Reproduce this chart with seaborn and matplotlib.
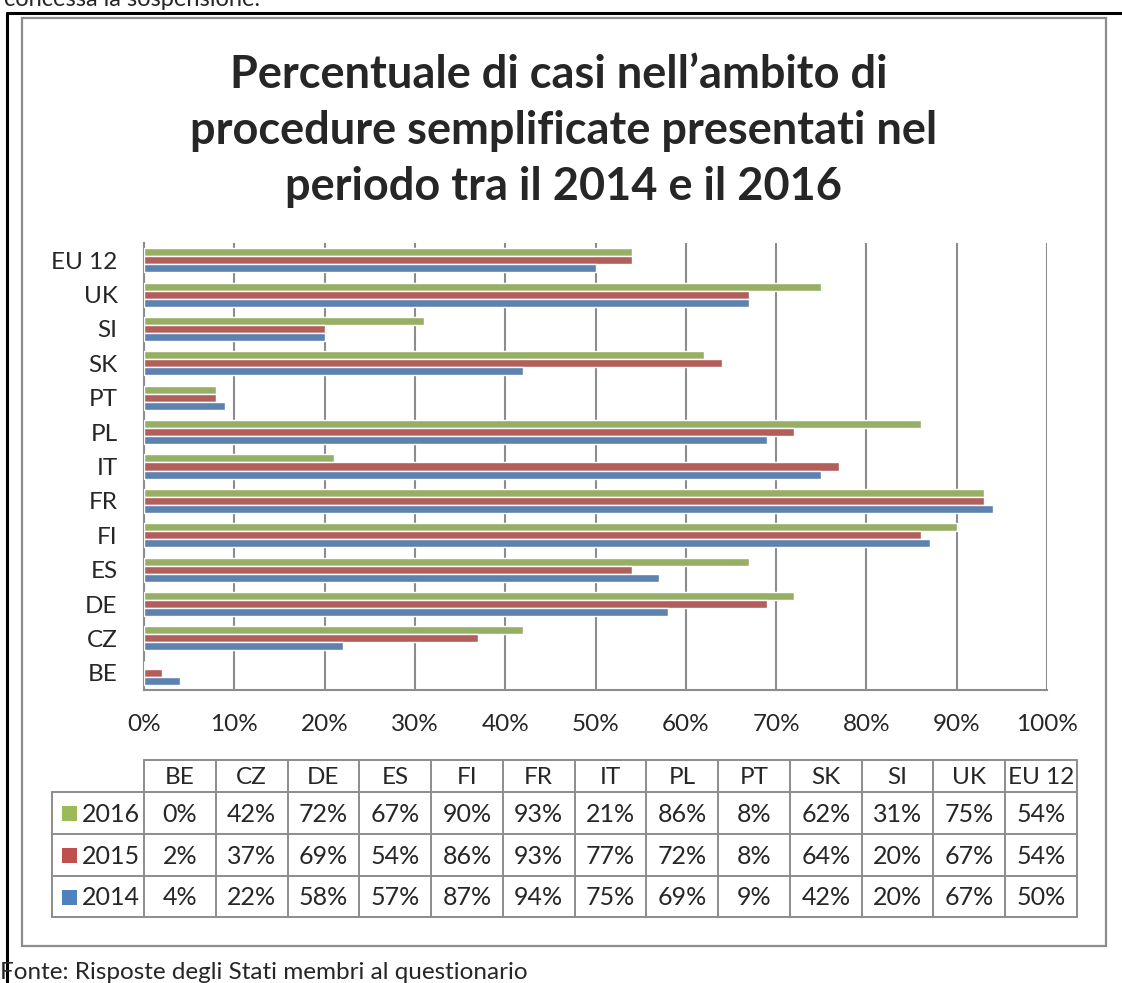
import matplotlib
matplotlib.use("Agg")
import matplotlib.pyplot as plt
import seaborn as sns
import pandas as pd

# dati (percentuali)
paesi = ["BE", "CZ", "DE", "ES", "FI", "FR", "IT", "PL", "PT", "SK", "SI", "UK", "EU 12"]
anni = ["2016", "2015", "2014"]
v2016 = [0, 42, 72, 67, 90, 93, 21, 86, 8, 62, 31, 75, 54]
v2015 = [2, 37, 69, 54, 86, 93, 77, 72, 8, 64, 20, 67, 54]
v2014 = [4, 22, 58, 57, 87, 94, 75, 69, 9, 42, 20, 67, 50]
x_ticks = [0, 10, 20, 30, 40, 50, 60, 70, 80, 90, 100]

colori = {"2016": "#9BBB59", "2015": "#C0504D", "2014": "#4F81BD"}
grigio = "#8C8C8C"

sns.set_style("white")
plt.rcParams['font.family'] = ['Lato', 'DejaVu Sans']

W, H = 1122, 983
fig = plt.figure(figsize=(W / 100, H / 100), dpi=100)

# sfondo in coordinate pixel (cornici, tabella, testi)
bg = fig.add_axes([0, 0, 1, 1])
bg.set_xlim(0, W)
bg.set_ylim(H, 0)
bg.axis("off")

# cornice nera esterna e box grigio del grafico
bg.plot([7, W + 5], [13, 13], color="black", lw=2.2)
bg.plot([7, 7], [13, H + 5], color="black", lw=2.2)
bg.add_patch(plt.Rectangle((22, 18), 1106 - 22, 946 - 18, fill=False,
                           edgecolor=grigio, lw=1.6))

bg.text(4, 6, "concessa la sospensione.", fontsize=17, va="baseline", ha="left")
bg.text(0, 979, "Fonte: Risposte degli Stati membri al questionario",
        fontsize=17.5, va="baseline", ha="left")

bg.text(564, 131, "Percentuale di casi nell\u2019ambito di \nprocedure semplificate presentati nel\nperiodo tra il 2014 e il 2016",
        fontsize=32.5, fontweight="bold", ha="center", va="center",
        multialignment="center", linespacing=1.42)

# grafico a barre
left, right, top, bottom = 144, 1047, 243, 690
ax = fig.add_axes([left / W, 1 - bottom / H, (right - left) / W, (bottom - top) / H])

df = pd.DataFrame({
    "paese": paesi * 3,
    "anno": ["2016"] * len(paesi) + ["2015"] * len(paesi) + ["2014"] * len(paesi),
    "valore": v2016 + v2015 + v2014,
})
ordine = paesi[::-1]
sns.barplot(data=df, x="valore", y="paese", hue="anno", order=ordine,
            hue_order=anni, palette=colori, orient="h", width=0.7, gap=0,
            errorbar=None, legend=False, ax=ax, zorder=3)

ax.set_xlim(0, 100)
ax.set_ylim(len(paesi) - 0.5, -0.5)
ax.set_xticks(x_ticks)
ax.set_xticklabels([f"{t}%" for t in x_ticks], fontsize=17.5)
ax.tick_params(axis="x", length=0, pad=17)
ax.tick_params(axis="y", length=0, pad=19, labelsize=17.5)
ax.set_xlabel("")
ax.set_ylabel("")
for lbl in ax.get_yticklabels():
    lbl.set_horizontalalignment("right")
ax.grid(axis="x", color=grigio, lw=1.5)
ax.set_axisbelow(True)
for s in ["top", "right"]:
    ax.spines[s].set_visible(False)
for s in ["left", "bottom"]:
    ax.spines[s].set_color(grigio)
    ax.spines[s].set_linewidth(1.5)

# tabella dati sotto il grafico
t_left, t_right = 144, 1077
c0 = 52
cw = (t_right - t_left) / len(paesi)
rows_y = [760, 792, 834, 876, 917]
lw_t = 1.4
# riga di intestazione
bg.plot([t_left, t_right], [rows_y[0], rows_y[0]], color=grigio, lw=lw_t)
for i in range(len(paesi) + 1):
    x = t_left + i * cw
    bg.plot([x, x], [rows_y[0], rows_y[-1]], color=grigio, lw=lw_t)
for y in rows_y[1:]:
    bg.plot([c0, t_right], [y, y], color=grigio, lw=lw_t)
bg.plot([c0, c0], [rows_y[1], rows_y[-1]], color=grigio, lw=lw_t)

for i, p in enumerate(paesi):
    bg.text(t_left + (i + 0.5) * cw, (rows_y[0] + rows_y[1]) / 2 + 1, p,
            fontsize=17.5, ha="center", va="center")

valori = {"2016": v2016, "2015": v2015, "2014": v2014}
for r, anno in enumerate(anni):
    yc = (rows_y[r + 1] + rows_y[r + 2]) / 2 + 1
    bg.add_patch(plt.Rectangle((62, yc - 8), 15, 15, color=colori[anno], lw=0))
    bg.text(82, yc, anno, fontsize=18, ha="left", va="center")
    for i, v in enumerate(valori[anno]):
        bg.text(t_left + (i + 0.5) * cw, yc, f"{v}%", fontsize=18,
                ha="center", va="center")

fig.savefig("out.png", dpi=100)
